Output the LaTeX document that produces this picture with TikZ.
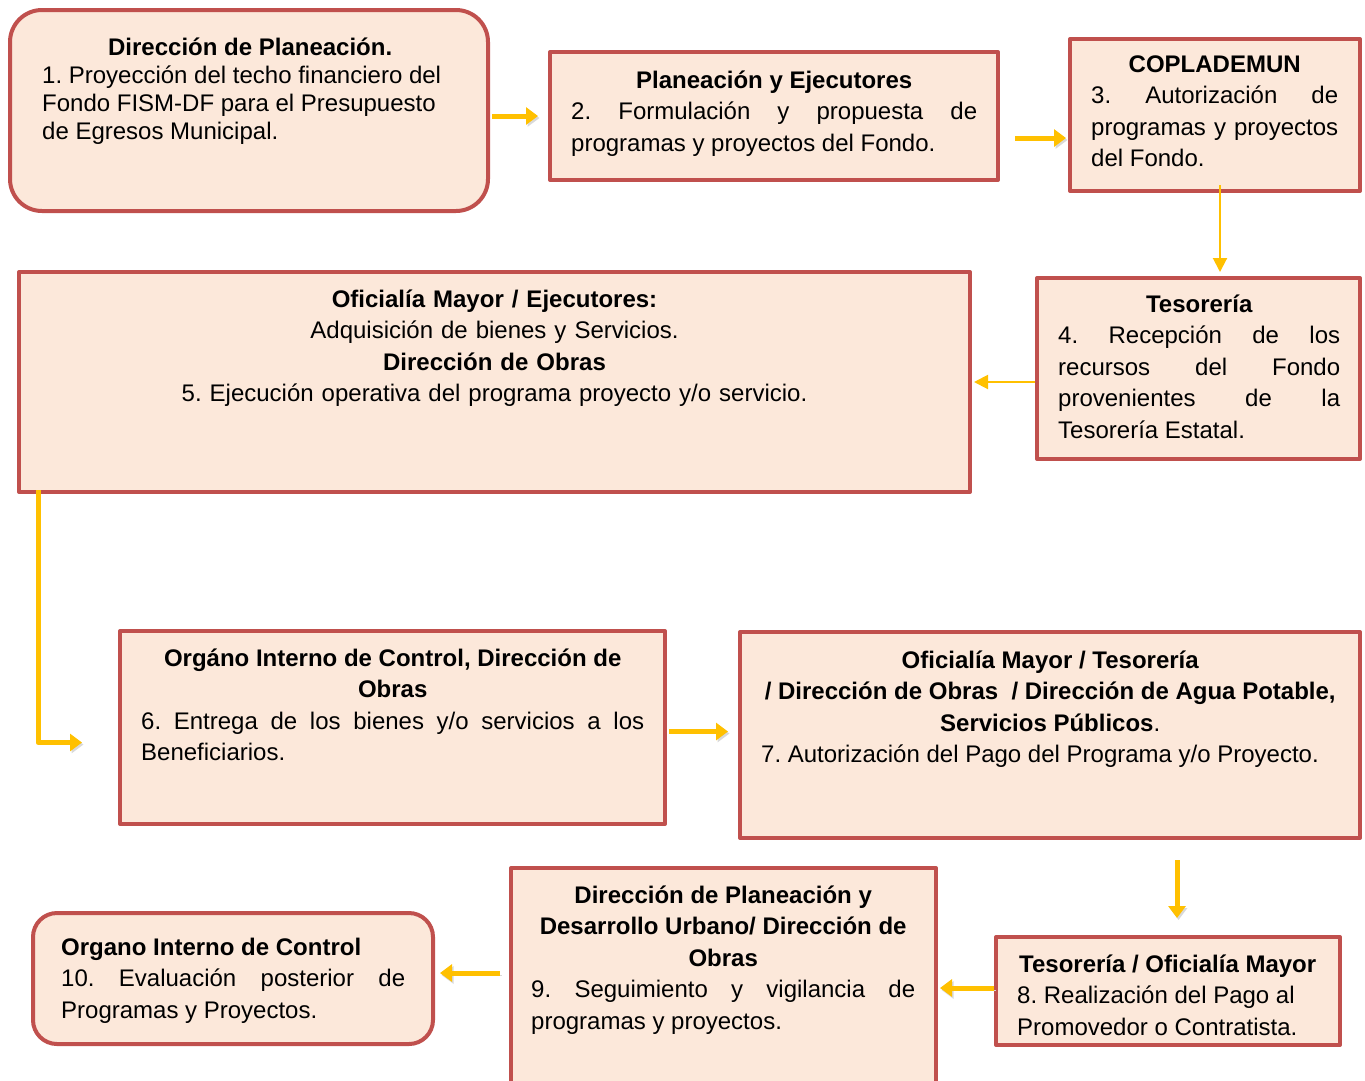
\documentclass[tikz,border=0pt]{standalone}
\usepackage{fontspec}
\setmainfont{Liberation Sans}
\usetikzlibrary{calc,arrows.meta}
\definecolor{boxred}{HTML}{C0504D}
\definecolor{boxfill}{HTML}{FCE8DA}
\definecolor{flowyel}{HTML}{FFC000}
\hyphenpenalty=10000
\exhyphenpenalty=10000
\tolerance=9999
\hbadness=10000
\frenchspacing
\newcommand{\boxhead}[1]{{\centering\bfseries #1\par}}

\begin{document}
\begin{tikzpicture}[x=1pt, y=-1pt, line join=round]
	\useasboundingbox (0,0) rectangle (1365,1080);
	\tikzset{
		box/.style={draw=boxred, fill=boxfill, line width=4pt, anchor=north west, inner sep=0pt},
		rbox/.style={box, rounded corners=32pt},
		lab/.style={anchor=base west, inner sep=0pt, align=justify, font=\fontsize{24}{31.5}\selectfont},
		flow/.style={draw=flowyel, line width=5pt, -{Triangle[length=12pt,width=17pt]},
			preaction={draw=black!15, transform canvas={shift={(1.5pt,-2pt)}}}},
		thinflow/.style={draw=flowyel, line width=2pt, -{Triangle[length=14pt,width=14pt]}}
	}

	% --- boxes (outer corner at the given point)
	\node[rbox, minimum width=478pt, minimum height=201pt] (b1) at (8,8) {};
	\node[box, minimum width=448pt, minimum height=128pt] (b2) at (548,50) {};
	\node[box, minimum width=290pt, minimum height=152pt] (b3) at (1068,37) {};
	\node[box, minimum width=323pt, minimum height=181pt] (b4) at (1035,276) {};
	\node[box, minimum width=951pt, minimum height=220pt] (b5) at (17,270) {};
	\node[box, minimum width=545pt, minimum height=193pt] (b6) at (118,629) {};
	\node[box, minimum width=620pt, minimum height=206pt] (b7) at (738,630) {};
	\node[box, minimum width=344pt, minimum height=108pt] (b8) at (994,935) {};
	\node[box, minimum width=425pt, minimum height=226pt] (b9) at (509,866) {};
	\node[rbox, rounded corners=24pt, minimum width=400pt, minimum height=131pt] (b10) at (31,911) {};

	% --- texts (first baseline, offset from the box corner)
	\node[lab, font=\fontsize{24}{28}\selectfont, text width=416pt] (t1) at ($(b1.north west)+(34,47)$)
		{\boxhead{Dirección de Planeación.}1. Proyección del techo financiero del\newline Fondo FISM-DF para el Presupuesto\newline de Egresos Municipal.};
	\node[lab, text width=406pt] (t2) at ($(b2.north west)+(23,38)$)
		{\boxhead{Planeación y Ejecutores}2. Formulación y propuesta de\linebreak programas y proyectos del Fondo.};
	\node[lab, text width=247pt] (t3) at ($(b3.north west)+(23,35)$)
		{\boxhead{COPLADEMUN}3. Autorización de\linebreak programas y proyectos\linebreak del Fondo.};
	\node[lab, text width=282pt] (t4) at ($(b4.north west)+(23,36)$)
		{\boxhead{Tesorería}4. Recepción de los\linebreak recursos del Fondo\linebreak provenientes de la\linebreak Tesorería Estatal.};
	\node[lab, anchor=base, align=center, text width=900pt] (t5) at ($(b5.north)+(0,37)$)
		{\textbf{Oficialía Mayor / Ejecutores:}\\ Adquisición de bienes y Servicios.\\ \textbf{Dirección de Obras}\\ 5. Ejecución operativa del programa proyecto y/o servicio.};
	\node[lab, text width=503pt] (t6) at ($(b6.north west)+(23,37)$)
		{\boxhead{Orgáno Interno de Control, Dirección de\\ Obras}6. Entrega de los bienes y/o servicios a los\linebreak Beneficiarios.};
	\node[lab, text width=578pt] (t7) at ($(b7.north west)+(23,38)$)
		{\boxhead{Oficialía Mayor / Tesorería\\ / Dirección de Obras~~/ Dirección de Agua Potable,\\ Servicios Públicos{\mdseries.}}7. Autorización del Pago del Programa y/o Proyecto.};
	\node[lab, text width=301pt] (t8) at ($(b8.north west)+(23,37)$)
		{\boxhead{Tesorería / Oficialía Mayor}8. Realización del Pago al\newline Promovedor o Contratista.};
	\node[lab, text width=384pt] (t9) at ($(b9.north west)+(22,37)$)
		{\boxhead{Dirección de Planeación y\\ Desarrollo Urbano/ Dirección de\\ Obras}9. Seguimiento y vigilancia de\linebreak programas y proyectos.};
	\node[lab, text width=344pt] (t10) at ($(b10.north west)+(30,44)$)
		{\textbf{Organo Interno de Control}\newline 10. Evaluación posterior de\linebreak Programas y Proyectos.};

	% --- connectors
	\draw[flow] ([shift={(2,0)}]b1.east |- b2.west) -- ([shift={(-10,0)}]b2.west);
	\draw[flow] ([shift={(15,22)}]b2.east) -- ([shift={(-2,22)}]b3.west |- b2.east);
	\draw[thinflow] ([shift={(5,-8)}]b3.south) -- ([shift={(5,-4)}]b3.south |- b4.north);
	\draw[thinflow] (b4.west |- b5.east) -- ([shift={(2,0)}]b5.east);
	\draw[flow] ([shift={(21,-4)}]b5.south west) |- ([shift={(-36,15)}]b6.west);
	\draw[flow] ([shift={(2,4)}]b6.east) -- ([shift={(-10,4)}]b7.west |- b6.east);
	\draw[flow] ([shift={(127,20)}]b7.south) -- ([shift={(9,-17)}]b8.north);
	\draw[flow] ([shift={(0,-3)}]b8.west) -- ([shift={(2,-3)}]b9.east |- b8.west);
	\draw[flow] ([shift={(-9,-8)}]b9.west) -- ([shift={(5,-8)}]b9.west -| b10.east);

\end{tikzpicture}
\end{document}
